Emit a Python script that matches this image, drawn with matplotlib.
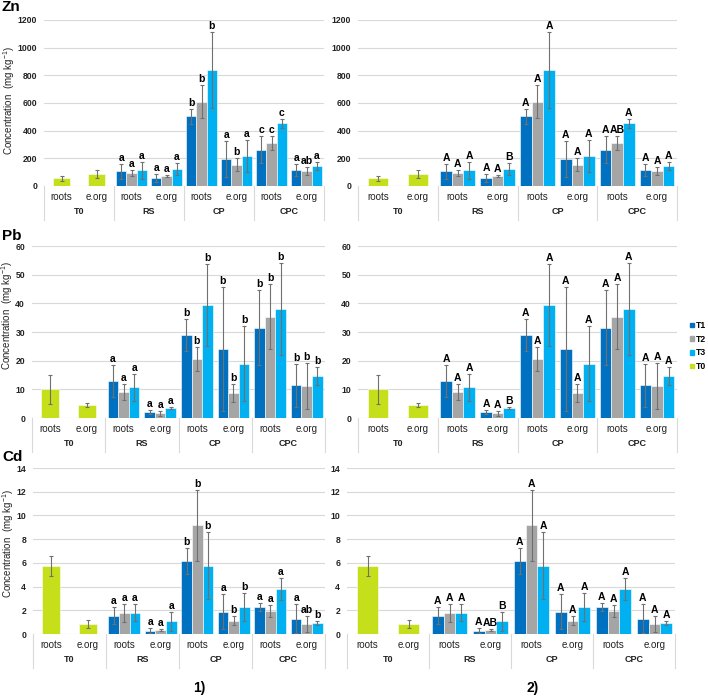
import numpy as np
import matplotlib.pyplot as plt
from matplotlib.patches import Patch
from matplotlib.transforms import blended_transform_factory

plt.rcParams['font.family'] = ['Liberation Sans', 'DejaVu Sans']
plt.rcParams['mathtext.default'] = 'regular'

tissues = ['roots', 'e.org']
groups = ['T0', 'RS', 'CP', 'CPC']
series = ['T1', 'T2', 'T3']
colors = ['#0070C0', '#A5A5A5', '#00B0F0']
t0_color = '#C5E01B'

# control T0 (roots, e.org)
zn_t0 = [55, 85]
zn_t0_err = [18, 28]
pb_t0 = [10.0, 4.5]
pb_t0_err = [5.0, 0.8]
cd_t0 = [5.76, 0.84]
cd_t0_err = [0.85, 0.3]

# rows: RS roots, RS e.org, CP roots, CP e.org, CPC roots, CPC e.org ; cols: T1, T2, T3
zn_mean = [[106, 92, 113], [58, 72, 125], [504, 610, 841],
           [198, 155, 219], [263, 311, 453], [116, 108, 147]]
zn_err = [[53, 22, 63], [26, 10, 44], [53, 118, 275],
          [130, 45, 115], [100, 50, 31], [45, 30, 30]]
pb_mean = [[12.9, 9.1, 10.8], [2.0, 1.6, 3.5], [29.0, 20.6, 39.4],
           [24.1, 8.7, 19.0], [31.5, 35.3, 37.9], [11.4, 11.1, 14.6]]
pb_err = [[5.5, 2.8, 4.7], [0.7, 0.8, 0.4], [5.7, 4.3, 14.3],
          [21.7, 3.0, 13.0], [13.0, 11.4, 16.0], [7.6, 8.0, 3.2]]
cd_mean = [[1.55, 1.77, 1.80], [0.28, 0.33, 1.07], [6.15, 9.16, 5.76],
           [1.88, 1.12, 2.27], [2.25, 1.97, 3.80], [1.29, 0.84, 0.93]]
cd_err = [[0.73, 0.76, 0.73], [0.2, 0.1, 0.78], [1.1, 3.0, 2.85],
          [1.5, 0.4, 1.2], [0.35, 0.5, 0.93], [1.24, 0.7, 0.17]]

zn_let1 = [['a', 'a', 'a'], ['a', 'a', 'a'], ['b', 'b', 'b'],
           ['a', 'b', 'a'], ['c', 'c', 'c'], ['a', 'ab', 'a']]
zn_let2 = [['A', 'A', 'A'], ['A', 'A', 'B'], ['A', 'A', 'A'],
           ['A', 'A', 'A'], ['A', 'AB', 'A'], ['A', 'A', 'A']]
pb_let1 = [['a', 'a', 'a'], ['a', 'a', 'a'], ['b', 'b', 'b'],
           ['b', 'b', 'b'], ['b', 'b', 'b'], ['b', 'b', 'b']]
pb_let2 = [['A', 'A', 'A'], ['A', 'A', 'B'], ['A', 'A', 'A'],
           ['A', 'A', 'A'], ['A', 'A', 'A'], ['A', 'A', 'A']]
cd_let1 = [['a', 'a', 'a'], ['a', 'a', 'a'], ['b', 'b', 'b'],
           ['a', 'b', 'b'], ['a', 'a', 'a'], ['a', 'ab', 'b']]
cd_let2 = [['A', 'A', 'A'], ['A', 'AB', 'B'], ['A', 'A', 'A'],
           ['A', 'A', 'A'], ['A', 'A', 'A'], ['A', 'A', 'A']]

W, H = 708, 696
fig = plt.figure(figsize=(W / 100, H / 100), dpi=100)


def panel(l, r, top, bot, t0, t0_err, mean, err, letters, ymax, step):
    ax = fig.add_axes([l / W, 1 - bot / H, (r - l) / W, (bot - top) / H])
    h = bot - top
    w = 0.29
    ax.bar([0.5, 1.5], t0, width=0.5, color=t0_color, edgecolor='white', lw=0.4)
    ax.errorbar([0.5, 1.5], t0, yerr=t0_err, fmt='none', ecolor='#707070',
                elinewidth=0.8, capsize=1.6, capthick=0.8)
    mean = np.array(mean)
    err = np.array(err)
    centers = np.arange(2, 8) + 0.5
    for j in range(3):
        x = centers + (j - 1) * w
        ax.bar(x, mean[:, j], width=w, color=colors[j], edgecolor='white', lw=0.4)
        ax.errorbar(x, mean[:, j], yerr=err[:, j], fmt='none', ecolor='#707070',
                    elinewidth=0.8, capsize=1.6, capthick=0.8)
        for k in range(6):
            ax.annotate(letters[k][j], (x[k], mean[k, j] + err[k, j]),
                        xytext=(0, 1), textcoords='offset pixels',
                        ha='center', va='bottom', fontsize=7.5, fontweight='bold')
    ax.set_xlim(0, 8)
    ax.set_ylim(0, ymax)
    ax.set_yticks(np.arange(0, ymax + step / 2, step))
    ax.tick_params(axis='y', length=0, pad=5, labelsize=6.2, labelcolor='#222222')
    for lbl in ax.get_yticklabels():
        lbl.set_fontweight('bold')
    ax.set_xticks([])
    ax.yaxis.grid(True, color='#d9d9d9', lw=0.8)
    ax.set_axisbelow(True)
    for s in ax.spines.values():
        s.set_visible(False)
    trans = blended_transform_factory(ax.transData, ax.transAxes)
    for k in range(8):
        ax.annotate(tissues[k % 2], (k + 0.5, 0), xytext=(0, -11),
                    textcoords='offset pixels', ha='center', va='center',
                    fontsize=7, color='#222222', annotation_clip=False)
    for g in range(4):
        ax.annotate(groups[g], (2 * g + 1, 0), xytext=(0, -26),
                    textcoords='offset pixels', ha='center', va='center',
                    fontsize=6.5, fontweight='bold', color='#222222',
                    annotation_clip=False)
    for g in range(5):
        ax.plot([2 * g, 2 * g], [0, -34 / h], transform=trans, clip_on=False,
                color='#d9d9d9', lw=0.8)
    return ax


rows = [
    ('Zn', 20, 186, (44, 324), (358, 677), zn_t0, zn_t0_err, zn_mean, zn_err,
     zn_let1, zn_let2, 1200, 200, 7, 101, 9),
    ('Pb', 246, 418, (32, 325), (358, 677), pb_t0, pb_t0_err, pb_mean, pb_err,
     pb_let1, pb_let2, 60, 10, 236, 316, 7),
    ('Cd', 468, 634, (33, 325), (347, 675), cd_t0, cd_t0_err, cd_mean, cd_err,
     cd_let1, cd_let2, 14, 2, 457, 544, 8),
]

for (name, top, bot, lp, rp, t0, t0e, m, e, let1, let2, ymax, step,
     ty, ly, lx) in rows:
    panel(lp[0], lp[1], top, bot, t0, t0e, m, e, let1, ymax, step)
    panel(rp[0], rp[1], top, bot, t0, t0e, m, e, let2, ymax, step)
    fig.text(2 / W, 1 - ty / H, name, fontsize=11, fontweight='bold',
             ha='left', va='center')
    fig.text(lx / W, 1 - ly / H, 'Concentration  (mg kg$^{-1}$)', rotation=90,
             fontsize=7, ha='center', va='center', color='#222222')

fig.text(199 / W, 1 - 688 / H, '1)', fontsize=10, fontweight='bold',
         ha='center', va='center')
fig.text(533 / W, 1 - 688 / H, '2)', fontsize=10, fontweight='bold',
         ha='center', va='center')

handles = [Patch(color=c) for c in colors + [t0_color]]
fig.legend(handles, series + ['T0'], loc='upper left',
           bbox_to_anchor=(690 / W, 1 - 321 / H), frameon=False,
           prop={'weight': 'bold', 'size': 6.2},
           handlelength=0.45, handleheight=0.45, handletextpad=0.2,
           labelspacing=0.55, borderpad=0, borderaxespad=0)

fig.savefig('out.png', dpi=100)
